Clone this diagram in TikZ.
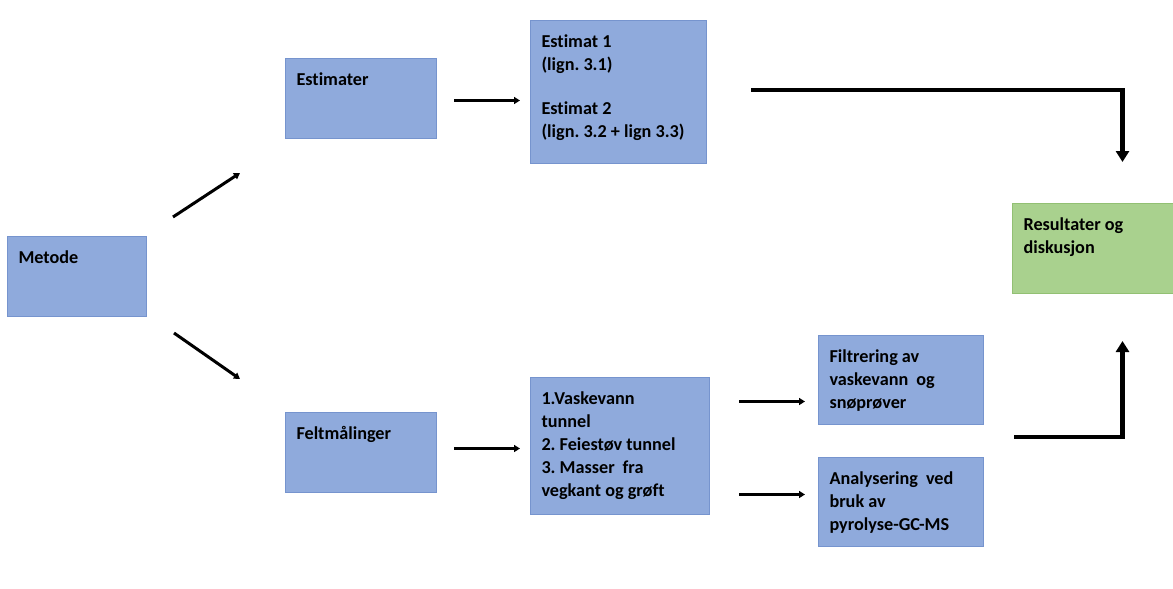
\documentclass[tikz,border=0pt]{standalone}
\usepackage{fontspec}
\setmainfont{Carlito}[Ligatures=NoCommon]
\usetikzlibrary{arrows.meta, positioning, calc}
\frenchspacing

\definecolor{boksblaa}{RGB}{143,170,220}
\definecolor{kantblaa}{RGB}{118,148,206}
\definecolor{boksgronn}{RGB}{169,209,142}
\definecolor{kantgronn}{RGB}{146,192,115}

% fast boks med teksten oppe til venstre
\newcommand{\boks}[3]{\parbox[c][#2][t]{#1}{\raggedright\strut #3}}

\tikzset{
  blokk/.style={draw=kantblaa, fill=boksblaa, line width=1pt, anchor=north west,
    inner xsep=11pt, inner ysep=11pt, font=\bfseries\fontsize{18.2}{23}\selectfont},
  pil/.style={line width=2.4pt, -{Triangle[length=6pt,width=7pt]}},
  tykkpil/.style={line width=4.5pt, -{Triangle[length=11pt,width=13pt]}}
}

\begin{document}
\begin{tikzpicture}[x=1pt, y=-1pt]
  \useasboundingbox (0,0) rectangle (1173,589);

  \node[blokk] (metode) at (7,236) {\boks{117pt}{58pt}{Metode}};
  \node[blokk] (estimater) at (285,58) {\boks{129pt}{58pt}{Estimater}};
  \node[blokk] (felt) at (285,412) {\boks{129pt}{58pt}{Feltmålinger}};
  \node[blokk] (estimat) at (530,20)
    {\boks{154pt}{121pt}{Estimat 1\\(lign. 3.1)\\[21pt]Estimat 2\\(lign. 3.2 + lign 3.3)}};
  \node[blokk] (vask) at (530,377)
    {\boks{157pt}{115pt}{1.Vaskevann\\tunnel\\2. Feiestøv tunnel\\3. Masser\hspace{8pt}fra\\vegkant og grøft}};
  \node[blokk] (filtr) at (818,335)
    {\boks{143pt}{67pt}{Filtrering av\\vaskevann\hspace{8pt}og\\snøprøver}};
  \node[blokk] (analys) at (818,457)
    {\boks{143pt}{67pt}{Analysering\hspace{8pt}ved\\bruk av\\pyrolyse-GC-MS}};
  \node[blokk, draw=kantgronn, fill=boksgronn] (resultat) at (1012,203)
    {\boks{139pt}{68pt}{Resultater og\\diskusjon}};

  % tynne piler
  \draw[pil, line width=3pt] ([shift={(26,-19)}]metode.north east) -- ([shift={(-45,34)}]estimater.south west);
  \draw[pil, line width=3pt] ([shift={(27,16)}]metode.south east) -- ([shift={(-45,-33)}]felt.north west);
  \draw[pil] ([shift={(17,2)}]estimater.east) -- ([shift={(-10,2)}]estimat.west |- estimater.east);
  \draw[pil] ([shift={(17,-4)}]felt.east) -- ([shift={(-10,-4)}]vask.west |- felt.east);
  \draw[pil] ([shift={(29,21.5)}]vask.east |- filtr.west) -- ([shift={(-13,21.5)}]filtr.west);
  \draw[pil] ([shift={(29,-7.5)}]vask.east |- analys.west) -- ([shift={(-13,-7.5)}]analys.west);

  % tykke piler mot resultat
  \draw[tykkpil] ([shift={(44,70)}]estimat.north east) -| ([shift={(29.5,-41)}]resultat.north);
  \draw[tykkpil] ([shift={(30,12)}]filtr.south east) -| ([shift={(29.5,47)}]resultat.south);
\end{tikzpicture}
\end{document}
